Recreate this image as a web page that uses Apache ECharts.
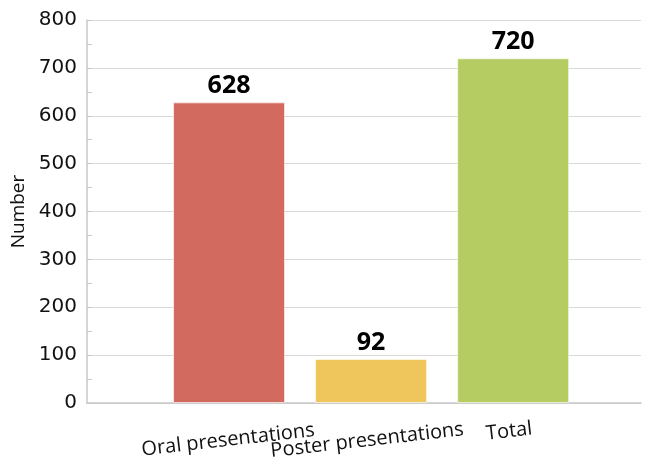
<!DOCTYPE html>
<html>
<head>
<meta charset="utf-8">
<script src="https://cdn.jsdelivr.net/npm/echarts@6/dist/echarts.min.js"></script>
<style>
  html, body { margin: 0; padding: 0; background: #fff; }
  #chart { width: 657px; height: 466px; }
</style>
</head>
<body>
<div id="chart"></div>
<script>
  var categories = ['Oral presentations', 'Poster presentations', 'Total']
  var values = [628, 92, 720]
  var barColors = ['#D36A60', '#EFC65C', '#B5CC62']
  var yTicks = [0, 100, 200, 300, 400, 500, 600, 700, 800]

  var chart = echarts.init(document.getElementById('chart'))

  // bars sit at x = 1, 2, 3 on a value axis, so the empty room on the left stays
  var barData = values.map(function (v, i) {
    return {
      value: [i + 1, v],
      itemStyle: { color: barColors[i] }
    }
  })

  // the short label sits a bit higher, like the original's rotated box
  var labelRich = {
    c0: { padding: [0, 2, 0, 0] },
    c1: { padding: [0, 8, 0, 0] },
    c2: { padding: [0, 6, 18, 0] }
  }

  chart.setOption({
    animation: false,
    grid: { left: 87, right: 16, top: 20, bottom: 63 },
    xAxis: {
      type: 'value',
      min: 0,
      max: 3.9,
      interval: 1,
      splitLine: { show: false },
      axisTick: { show: false },
      axisLine: { lineStyle: { color: '#c8c8c8', width: 1.5 } },
      axisLabel: {
        rotate: 6.5,
        align: 'center',
        verticalAlign: 'middle',
        margin: 37,
        fontFamily: 'Open Sans',
        fontSize: 20,
        color: '#111',
        rich: labelRich,
        formatter: function (v) {
          if (!Number.isInteger(v) || v < 1 || v > categories.length) return ''
          return '{c' + (v - 1) + '|' + categories[v - 1] + '}'
        }
      }
    },
    yAxis: {
      type: 'value',
      min: yTicks[0],
      max: yTicks[yTicks.length - 1],
      interval: 100,
      name: 'Number',
      nameLocation: 'middle',
      nameGap: 52,
      nameTextStyle: { fontFamily: 'Open Sans', fontSize: 19, color: '#111' },
      axisLine: { show: true, lineStyle: { color: '#c8c8c8', width: 1.5 } },
      axisTick: { show: true, inside: true, length: 5, lineStyle: { color: '#c8c8c8' } },
      minorTick: { show: true, splitNumber: 2, length: 5, lineStyle: { color: '#c8c8c8' } },
      splitLine: { lineStyle: { color: '#d9d9d9', width: 1.2 } },
      axisLabel: { fontFamily: 'DejaVu Sans', fontSize: 20, color: '#111', margin: 10 }
    },
    series: [
      {
        type: 'bar',
        barWidth: 112,
        data: barData,
        itemStyle: { borderColor: 'rgba(255,255,255,0.6)', borderWidth: 1 },
        label: {
          show: true,
          position: 'top',
          distance: 4,
          fontFamily: 'Open Sans',
          fontWeight: 'bold',
          fontSize: 25,
          color: '#000',
          formatter: function (p) { return p.value[1] }
        }
      }
    ]
  })
</script>
</body>
</html>
